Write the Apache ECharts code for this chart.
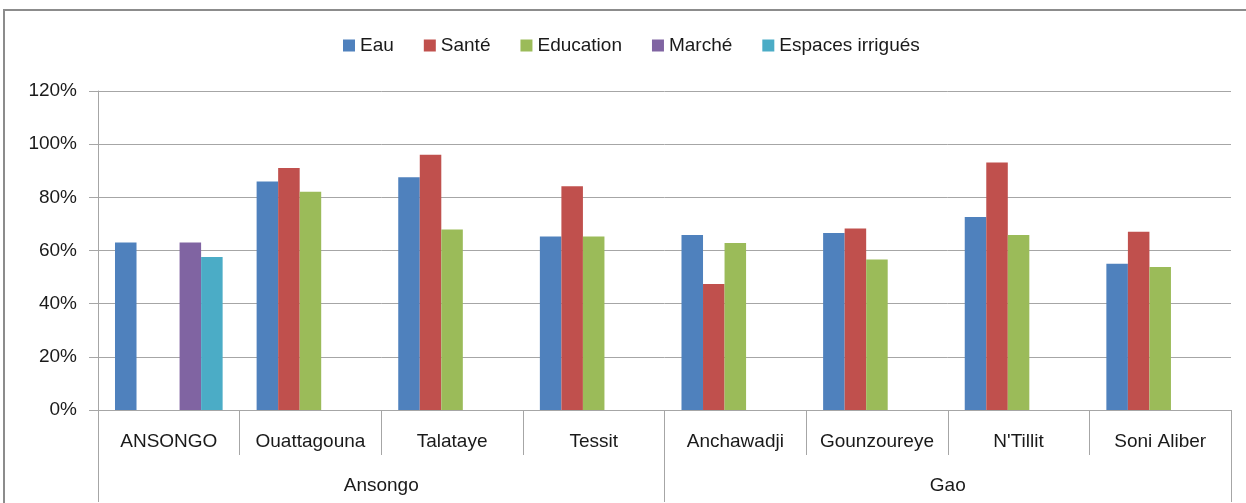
<!DOCTYPE html>
<html>
<head>
<meta charset="utf-8">
<script src="https://cdn.jsdelivr.net/npm/echarts@6/dist/echarts.min.js"></script>
<style>
	html, body { margin: 0; padding: 0; background: #fff; }
	#chart { width: 1246px; height: 503px; }
</style>
</head>
<body>
<div id="chart"></div>
<script>
// categories (first level) and their groups (second level)
const communes = ["ANSONGO", "Ouattagouna", "Talataye", "Tessit", "Anchawadji", "Gounzoureye", "N'Tillit", "Soni Aliber"];
const cercles = ["Ansongo", "Gao"];
// values in %, null = no bar
const eau = [63, 86, 87.6, 65.3, 65.8, 66.6, 72.6, 55];
const sante = [null, 91, 96, 84.2, 47.4, 68.3, 93.1, 67.1];
const education = [null, 82.1, 67.9, 65.3, 62.8, 56.6, 65.8, 53.8];
const marche = [63, null, null, null, null, null, null, null];
const espaces = [57.6, null, null, null, null, null, null, null];

const font = "Liberation Sans";
const gray = "#a6a6a6";

const chart = echarts.init(document.getElementById("chart"));

function bar(name, data, color) {
	return {
		name: name,
		type: "bar",
		data: data,
		barGap: "0%",
		barCategoryGap: "24%",
		itemStyle: { color: color },
	};
}

chart.setOption({
	animation: false,
	textStyle: { fontFamily: font, color: "#1a1a1a" },
	graphic: [
		{
			type: "rect",
			shape: { x: 4, y: 10, width: 1300, height: 600 },
			style: { fill: "none", stroke: "#8c8c8c", lineWidth: 2 },
			silent: true,
		},
	],
	legend: {
		left: 338,
		top: 31,
		icon: "rect",
		itemWidth: 12,
		itemHeight: 12,
		itemGap: 30,
		textStyle: { fontFamily: font, fontSize: 19, color: "#1a1a1a" },
		data: ["Eau", "Santé", "Education", "Marché", "Espaces irrigués"],
	},
	grid: { left: 98, right: 15, top: 91, bottom: 93, containLabel: false },
	xAxis: [
		{
			type: "category",
			data: communes,
			axisLine: { lineStyle: { color: gray, width: 1 } },
			axisTick: { show: true, interval: 0, length: 45, lineStyle: { color: gray } },
			axisLabel: { interval: 0, margin: 22, fontSize: 19, color: "#1a1a1a", fontFamily: font },
		},
		{
			type: "category",
			position: "bottom",
			data: cercles,
			axisLine: { show: false },
			axisTick: { show: true, interval: 0, length: 92, lineStyle: { color: gray } },
			axisLabel: { interval: 0, margin: 66, fontSize: 19, color: "#1a1a1a", fontFamily: font },
		},
	],
	yAxis: {
		type: "value",
		min: 0,
		max: 120,
		interval: 20,
		axisLine: { show: true, lineStyle: { color: gray } },
		axisTick: { show: true, length: 9, lineStyle: { color: gray } },
		splitLine: { lineStyle: { color: gray, width: 1 } },
		axisLabel: { formatter: "{value}%", margin: 21, fontSize: 19, color: "#1a1a1a", fontFamily: font },
	},
	series: [
		bar("Eau", eau, "#4f81bd"),
		bar("Santé", sante, "#c0504d"),
		bar("Education", education, "#9bbb59"),
		bar("Marché", marche, "#8064a2"),
		bar("Espaces irrigués", espaces, "#4bacc6"),
	],
});
</script>
</body>
</html>
